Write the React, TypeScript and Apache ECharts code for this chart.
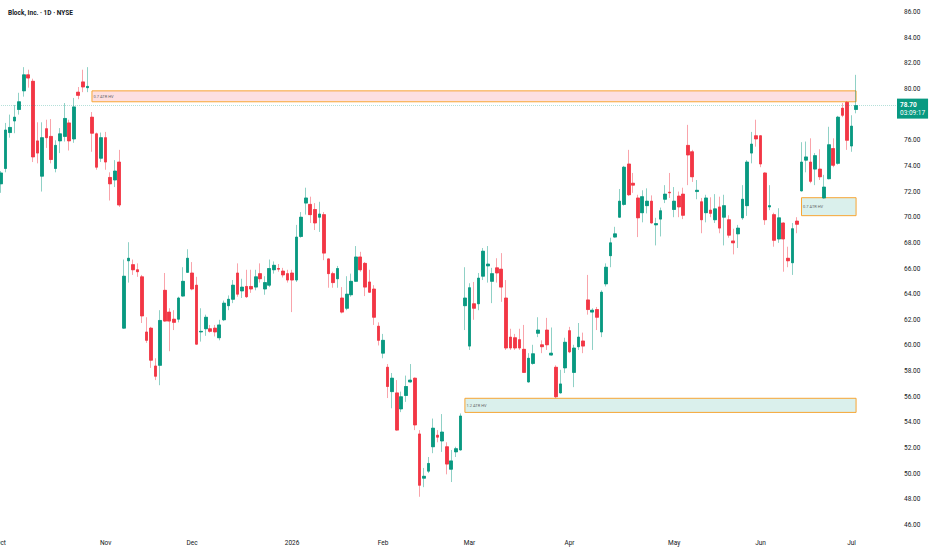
import React, { useEffect, useRef } from "react";
import * as echarts from "echarts";

const chartTitle = "Block, Inc. · 1D · NYSE";

// [open, close, low, high] per daily session
const priceBars: number[][] = [
  [72.6, 73.45, 71.9, 73.6], [73.8, 76.8, 73.5, 77.35], [76.6, 77.0, 76.2, 78.0], [77.5, 77.8, 76.55, 78.75],
  [78.4, 79.0, 78.0, 79.7], [79.85, 81.1, 79.4, 81.7], [81.1, 80.85, 80.1, 81.5], [80.6, 74.7, 74.3, 80.8],
  [75.95, 75.0, 74.2, 77.4], [73.2, 76.2, 72.0, 77.4], [76.9, 76.2, 75.4, 77.6], [76.3, 74.5, 74.2, 77.65],
  [73.8, 75.6, 73.5, 76.0], [75.95, 76.5, 75.0, 76.95], [76.3, 77.7, 75.9, 78.9], [77.35, 75.95, 75.2, 77.6],
  [76.1, 78.6, 75.8, 79.3], [79.75, 79.5, 79.2, 80.15], [80.55, 80.15, 79.75, 81.5], [80.1, 80.2, 79.75, 81.7],
  [77.8, 76.55, 75.1, 78.2], [76.5, 73.9, 73.7, 76.6], [74.6, 76.2, 74.3, 76.6], [76.2, 74.3, 73.7, 76.65],
  [73.1, 72.6, 71.3, 73.5], [72.9, 73.6, 72.35, 74.45], [74.3, 70.95, 70.8, 75.25], [61.35, 65.4, 61.3, 66.7],
  [66.6, 66.8, 64.9, 68.05], [66.3, 65.9, 65.5, 66.7], [65.9, 65.75, 65.35, 66.4], [65.35, 62.3, 61.75, 65.5],
  [61.05, 60.4, 60.2, 62.2], [61.35, 58.85, 58.25, 61.45], [58.4, 57.6, 57.3, 59.0], [58.45, 61.95, 56.9, 62.75],
  [64.3, 61.9, 61.85, 65.65], [62.6, 61.9, 59.55, 62.9], [62.05, 61.8, 61.2, 62.75], [62.05, 63.7, 61.8, 63.8],
  [63.85, 65.0, 63.8, 66.1], [65.7, 66.8, 65.65, 67.5], [65.65, 64.4, 64.3, 66.5], [64.7, 60.1, 60.05, 65.35],
  [61.05, 61.1, 60.3, 62.9], [61.3, 62.2, 60.75, 62.4], [61.3, 61.1, 61.0, 61.6], [61.35, 61.05, 60.7, 61.6],
  [60.6, 61.6, 60.4, 62.0], [62.0, 63.3, 61.9, 63.5], [63.1, 63.6, 62.75, 63.9], [63.6, 64.7, 63.3, 65.1],
  [65.65, 64.0, 63.8, 66.4], [64.25, 64.55, 63.7, 65.2], [64.6, 63.8, 63.7, 65.9], [64.6, 64.4, 64.1, 65.9],
  [64.55, 65.35, 64.3, 65.9], [65.6, 65.2, 64.9, 66.4], [64.4, 64.9, 63.95, 65.4], [64.7, 66.0, 64.55, 66.7],
  [65.9, 66.25, 65.6, 66.55], [66.0, 65.95, 65.75, 66.35], [65.8, 65.5, 65.3, 66.05], [65.6, 65.1, 64.9, 65.9],
  [65.65, 65.1, 62.6, 65.9], [65.1, 68.45, 64.95, 69.4], [68.5, 70.0, 68.4, 70.4], [71.1, 71.5, 70.2, 72.3],
  [71.0, 70.2, 69.55, 71.6], [70.6, 69.55, 69.0, 71.1], [70.0, 70.25, 68.85, 71.2], [70.2, 67.2, 66.65, 70.4],
  [66.75, 65.6, 64.5, 66.8], [65.6, 64.9, 64.5, 65.75], [65.2, 66.0, 64.5, 66.2], [63.7, 62.6, 62.5, 64.55],
  [62.9, 64.0, 62.75, 65.4], [63.95, 65.0, 63.8, 65.6], [65.0, 66.9, 64.95, 67.75], [66.9, 65.9, 65.75, 67.3],
  [66.4, 64.55, 63.85, 66.5], [64.95, 64.15, 64.1, 65.9], [64.4, 62.2, 61.6, 64.7], [61.5, 60.4, 60.0, 61.8],
  [59.4, 60.4, 59.0, 60.9], [58.3, 56.8, 55.9, 58.55], [56.4, 57.45, 55.1, 57.85], [56.3, 53.4, 53.35, 57.3],
  [55.05, 56.0, 54.8, 56.4], [56.1, 56.8, 55.6, 57.65], [57.15, 57.3, 57.1, 58.55], [57.45, 53.8, 53.4, 57.5],
  [53.1, 49.1, 48.2, 53.4], [49.65, 49.8, 48.95, 50.45], [50.2, 50.8, 50.05, 51.3], [52.1, 53.55, 51.6, 54.3],
  [53.0, 52.85, 52.45, 53.4], [52.55, 53.25, 51.7, 54.65], [52.1, 50.75, 49.95, 52.45], [50.35, 51.0, 49.35, 51.85],
  [51.7, 51.95, 51.3, 52.1], [51.85, 54.5, 51.8, 54.7], [63.1, 63.7, 61.2, 66.1], [59.95, 64.5, 59.65, 64.85],
  [63.25, 62.9, 62.0, 64.95], [63.25, 65.25, 62.75, 65.65], [65.4, 67.35, 65.1, 67.6], [66.2, 66.35, 64.9, 67.75],
  [65.0, 65.6, 63.3, 66.05], [66.05, 65.65, 64.9, 66.8], [65.95, 64.55, 63.4, 67.2], [63.7, 59.8, 59.65, 65.1],
  [60.65, 59.8, 59.65, 61.3], [60.6, 59.8, 59.65, 60.9], [60.45, 59.8, 59.65, 61.3], [59.7, 57.9, 57.85, 61.6],
  [57.15, 59.0, 57.1, 59.4], [58.6, 59.35, 58.5, 60.05], [60.95, 61.2, 60.65, 62.2], [60.05, 59.9, 59.4, 60.4],
  [61.2, 60.05, 59.65, 62.15], [59.25, 59.4, 59.2, 61.4], [58.3, 56.0, 55.9, 58.45], [56.3, 57.0, 56.25, 58.1],
  [58.25, 60.25, 57.85, 60.6], [61.15, 59.5, 59.4, 61.45], [57.9, 59.8, 56.75, 60.05], [59.9, 60.65, 59.65, 61.75],
  [60.35, 59.95, 59.4, 61.0], [63.55, 62.8, 62.4, 65.5], [62.6, 62.75, 59.65, 62.9], [62.8, 62.2, 61.2, 63.0],
  [61.05, 64.15, 60.65, 64.3], [64.8, 66.1, 64.6, 66.4], [67.0, 68.0, 66.1, 68.4], [68.45, 68.7, 68.4, 69.25],
  [70.0, 71.25, 69.95, 72.2], [71.0, 73.9, 70.9, 74.0], [74.15, 71.75, 71.65, 75.25], [72.65, 72.5, 71.9, 73.45],
  [71.5, 69.95, 68.45, 71.75], [70.35, 71.6, 69.6, 72.1], [70.9, 71.25, 70.3, 72.25], [71.25, 69.55, 69.5, 71.7],
  [69.4, 69.5, 67.8, 69.95], [69.85, 70.5, 68.5, 70.75], [71.4, 71.8, 71.1, 72.5], [71.95, 71.9, 71.5, 73.45],
  [70.6, 71.25, 70.0, 72.35], [71.65, 70.8, 70.0, 72.0], [71.8, 70.15, 69.85, 72.3], [75.6, 74.85, 72.5, 77.2],
  [75.1, 73.15, 72.75, 75.25], [72.0, 72.1, 71.4, 72.9], [71.2, 69.8, 68.75, 71.5], [70.35, 71.5, 69.6, 71.75],
  [70.55, 70.3, 70.0, 71.55], [69.8, 70.65, 69.55, 71.8], [70.8, 69.15, 68.75, 71.6], [70.0, 70.9, 67.8, 71.75],
  [69.8, 68.6, 68.4, 70.15], [68.15, 68.0, 67.1, 69.1], [68.7, 69.15, 67.6, 69.4], [69.95, 71.4, 69.8, 72.5],
  [70.9, 74.3, 70.1, 74.45], [75.0, 75.7, 74.2, 76.65], [76.35, 76.1, 75.5, 77.6], [76.35, 74.15, 73.9, 76.4],
  [73.45, 69.8, 69.4, 73.5], [70.8, 70.9, 70.55, 72.5], [70.2, 68.2, 67.7, 70.35], [68.3, 69.95, 68.0, 70.7],
  [69.55, 68.3, 65.75, 69.6], [66.8, 66.6, 66.1, 67.7], [66.45, 69.1, 65.5, 69.55], [69.7, 69.45, 68.75, 70.0],
  [72.05, 74.3, 72.0, 75.85], [74.45, 74.7, 73.5, 75.9], [74.3, 72.8, 72.65, 76.15], [73.75, 74.8, 72.5, 75.0],
  [73.75, 73.15, 72.9, 75.3], [71.5, 72.35, 71.45, 73.3], [73.0, 75.65, 72.95, 77.05], [75.35, 74.05, 73.9, 76.15],
  [74.2, 77.8, 74.1, 77.9], [78.5, 77.95, 77.8, 78.9], [78.95, 76.0, 75.25, 79.05], [75.55, 77.1, 75.1, 77.95],
  [78.4, 78.7, 78.1, 81.1],
];

const slotCount = 198;
const categories = Array.from({ length: slotCount }, (_, i) => String(i));

const monthTickIndex = [0, 23, 42, 64, 84, 103, 125, 148, 167, 187];
const monthTickLabel = ["Oct", "Nov", "Dec", "2026", "Feb", "Mar", "Apr", "May", "Jun", "Jul"];

const zoneStart = [20, 102, 176];
const zoneEnd = [188, 188, 188];
const zoneLow = [79.0, 54.78, 70.12];
const zoneHigh = [79.85, 55.88, 71.52];
const zoneText = ["0.7 ATR HV", "1.2 ATR HV", "0.7 ATR HV"];
const zoneBearish = [true, false, false];

const countdownText = "03:09:17";
const yMin = 46;
const yMax = 86;
const yStep = 2;

const UP = "#089981";
const DOWN = "#F23645";
const FONT = "Roboto, 'Noto Sans', sans-serif";

export default function App() {
  const ref = useRef<HTMLDivElement>(null);

  useEffect(() => {
    if (!ref.current) return;
    const chart = echarts.init(ref.current, undefined, { renderer: "svg" });
    const lastClose = priceBars[priceBars.length - 1][1];
    const bodies = priceBars.map((b) => [b[0], b[1], Math.min(b[0], b[1]), Math.max(b[0], b[1])]);

    const areas = zoneStart.map((s, i) => [
      {
        xAxis: categories[s],
        yAxis: zoneLow[i],
        itemStyle: {
          color: zoneBearish[i] ? "rgba(242,54,69,0.16)" : "rgba(8,153,129,0.15)",
          borderColor: "#F7A534",
          borderWidth: 1,
        },
        label: {
          show: true,
          position: "insideLeft",
          formatter: zoneText[i],
          fontSize: 4,
          color: "#666",
          distance: 2,
          fontFamily: FONT,
        },
      },
      { xAxis: categories[zoneEnd[i]], yAxis: zoneHigh[i] },
    ]);

    chart.setOption({
      animation: false,
      backgroundColor: "#ffffff",
      textStyle: { fontFamily: FONT },
      title: {
        text: chartTitle,
        left: 3,
        top: 4,
        textStyle: { fontSize: 6.5, fontWeight: "bold", color: "#131722", fontFamily: FONT },
      },
      grid: { left: 1, right: 35, top: 12, bottom: 25, containLabel: false, outerBoundsMode: "none" },
      xAxis: {
        type: "category",
        data: categories,
        boundaryGap: false,
        axisLine: { show: false },
        axisTick: { show: false },
        splitLine: { show: false },
        axisLabel: {
          interval: (idx: number) => monthTickIndex.includes(idx),
          formatter: (_v: string, idx: number) => {
            const k = monthTickIndex.indexOf(idx);
            return k >= 0 ? monthTickLabel[k] : "";
          },
          fontSize: 6.5,
          color: "#131722",
          margin: 14,
          fontFamily: FONT,
        },
      },
      yAxis: {
        type: "value",
        position: "right",
        min: yMin,
        max: yMax,
        interval: yStep,
        axisLine: { show: false },
        axisTick: { show: false },
        splitLine: { show: false },
        axisLabel: {
          // the live-price tag covers the tick label it sits on
          formatter: (v: number) => (Math.abs(v - lastClose) < 1.2 ? "" : v.toFixed(2)),
          fontSize: 6.5,
          color: "#131722",
          margin: 7,
          fontFamily: FONT,
        },
      },
      series: [
        {
          type: "candlestick",
          name: "wicks",
          data: priceBars,
          barWidth: 3.2,
          itemStyle: {
            color: UP,
            color0: DOWN,
            borderColor: "rgba(8,153,129,0.45)",
            borderColor0: "rgba(242,54,69,0.45)",
            borderWidth: 1,
          },
          markArea: { silent: true, data: areas },
        },
        {
          type: "candlestick",
          name: "bodies",
          data: bodies,
          barWidth: 3.2,
          itemStyle: {
            color: UP,
            color0: DOWN,
            borderColor: UP,
            borderColor0: DOWN,
            borderWidth: 0.5,
          },
          markLine: {
            silent: true,
            symbol: ["none", "none"],
            lineStyle: { color: "rgba(8,153,129,0.3)", type: "dotted", width: 1 },
            label: {
              show: true,
              position: "end",
              distance: 0,
              offset: [0, 3],
              formatter: () => `{p|${lastClose.toFixed(2)}}\n{t|${countdownText}}`,
              backgroundColor: UP,
              padding: [2, 3, 2, 3],
              rich: {
                p: { color: "#fff", fontSize: 6.5, fontWeight: "bold", lineHeight: 8, fontFamily: FONT },
                t: { color: "#fff", fontSize: 6.5, lineHeight: 8, fontFamily: FONT },
              },
            },
            data: [{ yAxis: lastClose }],
          },
        },
      ],
    });
    return () => chart.dispose();
  }, []);

  return (
    <div
      ref={ref}
      style={{ position: "fixed", left: 0, top: 0, width: 932, height: 550, background: "#fff" }}
    />
  );
}
